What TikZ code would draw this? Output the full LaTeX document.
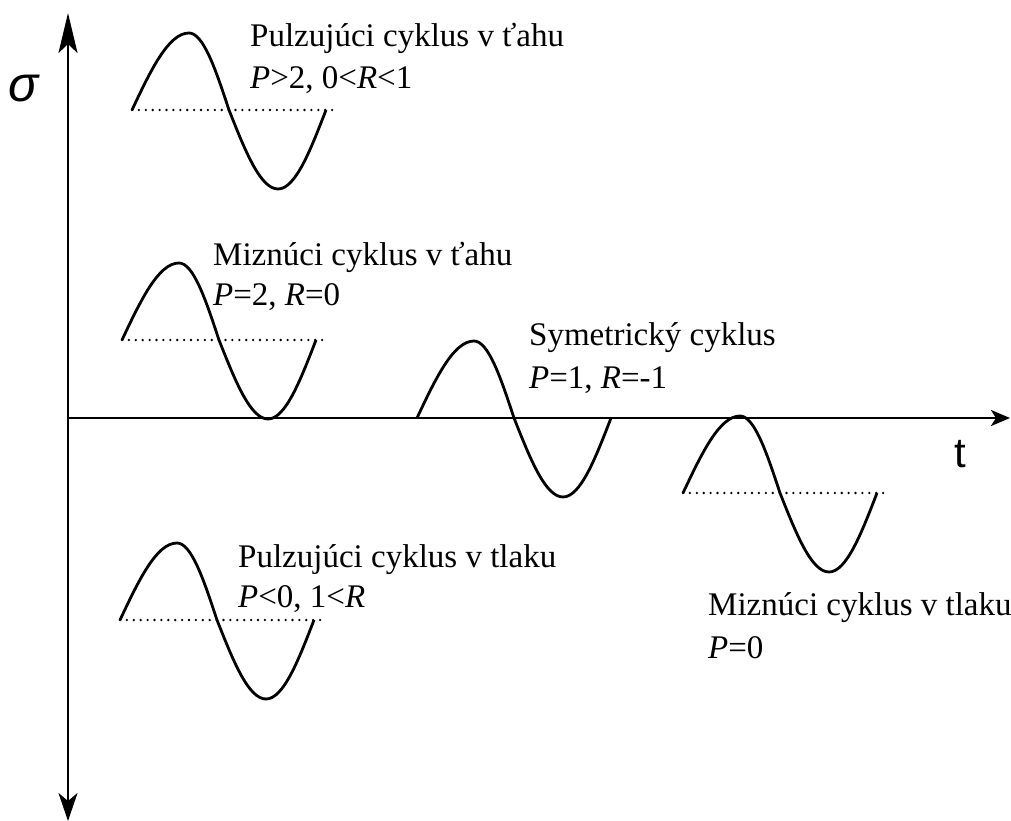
\documentclass[tikz,border=0pt]{standalone}
\usepackage{fontspec}
\setmainfont{Liberation Serif}
\newfontfamily\sansf{Liberation Sans}
\usetikzlibrary{arrows.meta}
\begin{document}
\begin{tikzpicture}[x=1pt,y=-1pt,
  axis/.style={line width=2.6pt},
  curve/.style={line width=2.8pt, line join=round},
  meanline/.style={line width=2.6pt, line cap=round, dash pattern=on 0pt off 6.9pt},
  lbl/.style={anchor=base west, inner sep=0pt, font=\fontsize{33}{40}\selectfont},
  wave/.pic={\draw[curve] (0,0) .. controls (18.6,-39.4) and (36.4,-77) .. (57,-77)
     .. controls (71.5,-77) and (84,-39.4) .. (97,0)
     .. controls (113,40.4) and (128.3,79) .. (146,79)
     .. controls (163.4,79) and (178.4,40.4) .. (194,0);}
]
\useasboundingbox (0,0) rectangle (1011,821);
% axes
\coordinate (O) at (68,418);
\coordinate (Ytop) at (68,13);
\coordinate (Ybot) at (68,821);
\coordinate (Xend) at (1010,418);
\draw[axis, -{Stealth[length=40pt,width=19pt,inset=9pt]}] (O) -- (Ytop);
\draw[axis, -{Stealth[length=28pt,width=19pt,inset=8pt]}] (O) -- (Ybot);
\draw[axis, -{Stealth[length=19pt,width=16pt,inset=5pt]}] (O) -- (Xend);
\node[anchor=base west, inner sep=0pt, font=\sansf\itshape\fontsize{50}{52}\selectfont] (sig) at (8,102) {σ};
\node[anchor=base west, inner sep=0pt, font=\sansf\fontsize{42}{46}\selectfont] (tt) at (954,467) {t};
% mean lines
\coordinate (m1a) at (132,110); \coordinate (m1b) at (338,110);
\coordinate (m2a) at (122,340); \coordinate (m2b) at (323,340);
\coordinate (m4a) at (683,493); \coordinate (m4b) at (889,493);
\coordinate (m5a) at (120,620); \coordinate (m5b) at (322,620);
\draw[meanline] (m1a) -- (m1b);
\draw[meanline] (m2a) -- (m2b);
\draw[meanline] (m4a) -- (m4b);
\draw[meanline] (m5a) -- (m5b);
% waves
\pic (w1) at (132,110) {wave};
\pic (w2) at (122,340) {wave};
\pic (w3) at (417,418) {wave};
\pic (w4) at (683,493) {wave};
\pic (w5) at (120,620) {wave};
% labels
\node[lbl] (l1a) at (250,47) {Pulzujúci cyklus v ťahu};
\node[lbl] (l1b) at (250,89) {\textit{P}>2, 0<\textit{R}<1};
\node[lbl] (l2a) at (213,265) {Miznúci cyklus v ťahu};
\node[lbl] (l2b) at (213,305) {\textit{P}=2, \textit{R}=0};
\node[lbl] (l3a) at (529,345) {Symetrický cyklus};
\node[lbl] (l3b) at (529,388) {\textit{P}=1, \textit{R}=-1};
\node[lbl] (l5a) at (238,567) {Pulzujúci cyklus v tlaku};
\node[lbl] (l5b) at (238,607) {\textit{P}<0, 1<\textit{R}};
\node[lbl] (l4a) at (708,615) {Miznúci cyklus v tlaku};
\node[lbl] (l4b) at (708,658) {\textit{P}=0};
\end{tikzpicture}
\end{document}
